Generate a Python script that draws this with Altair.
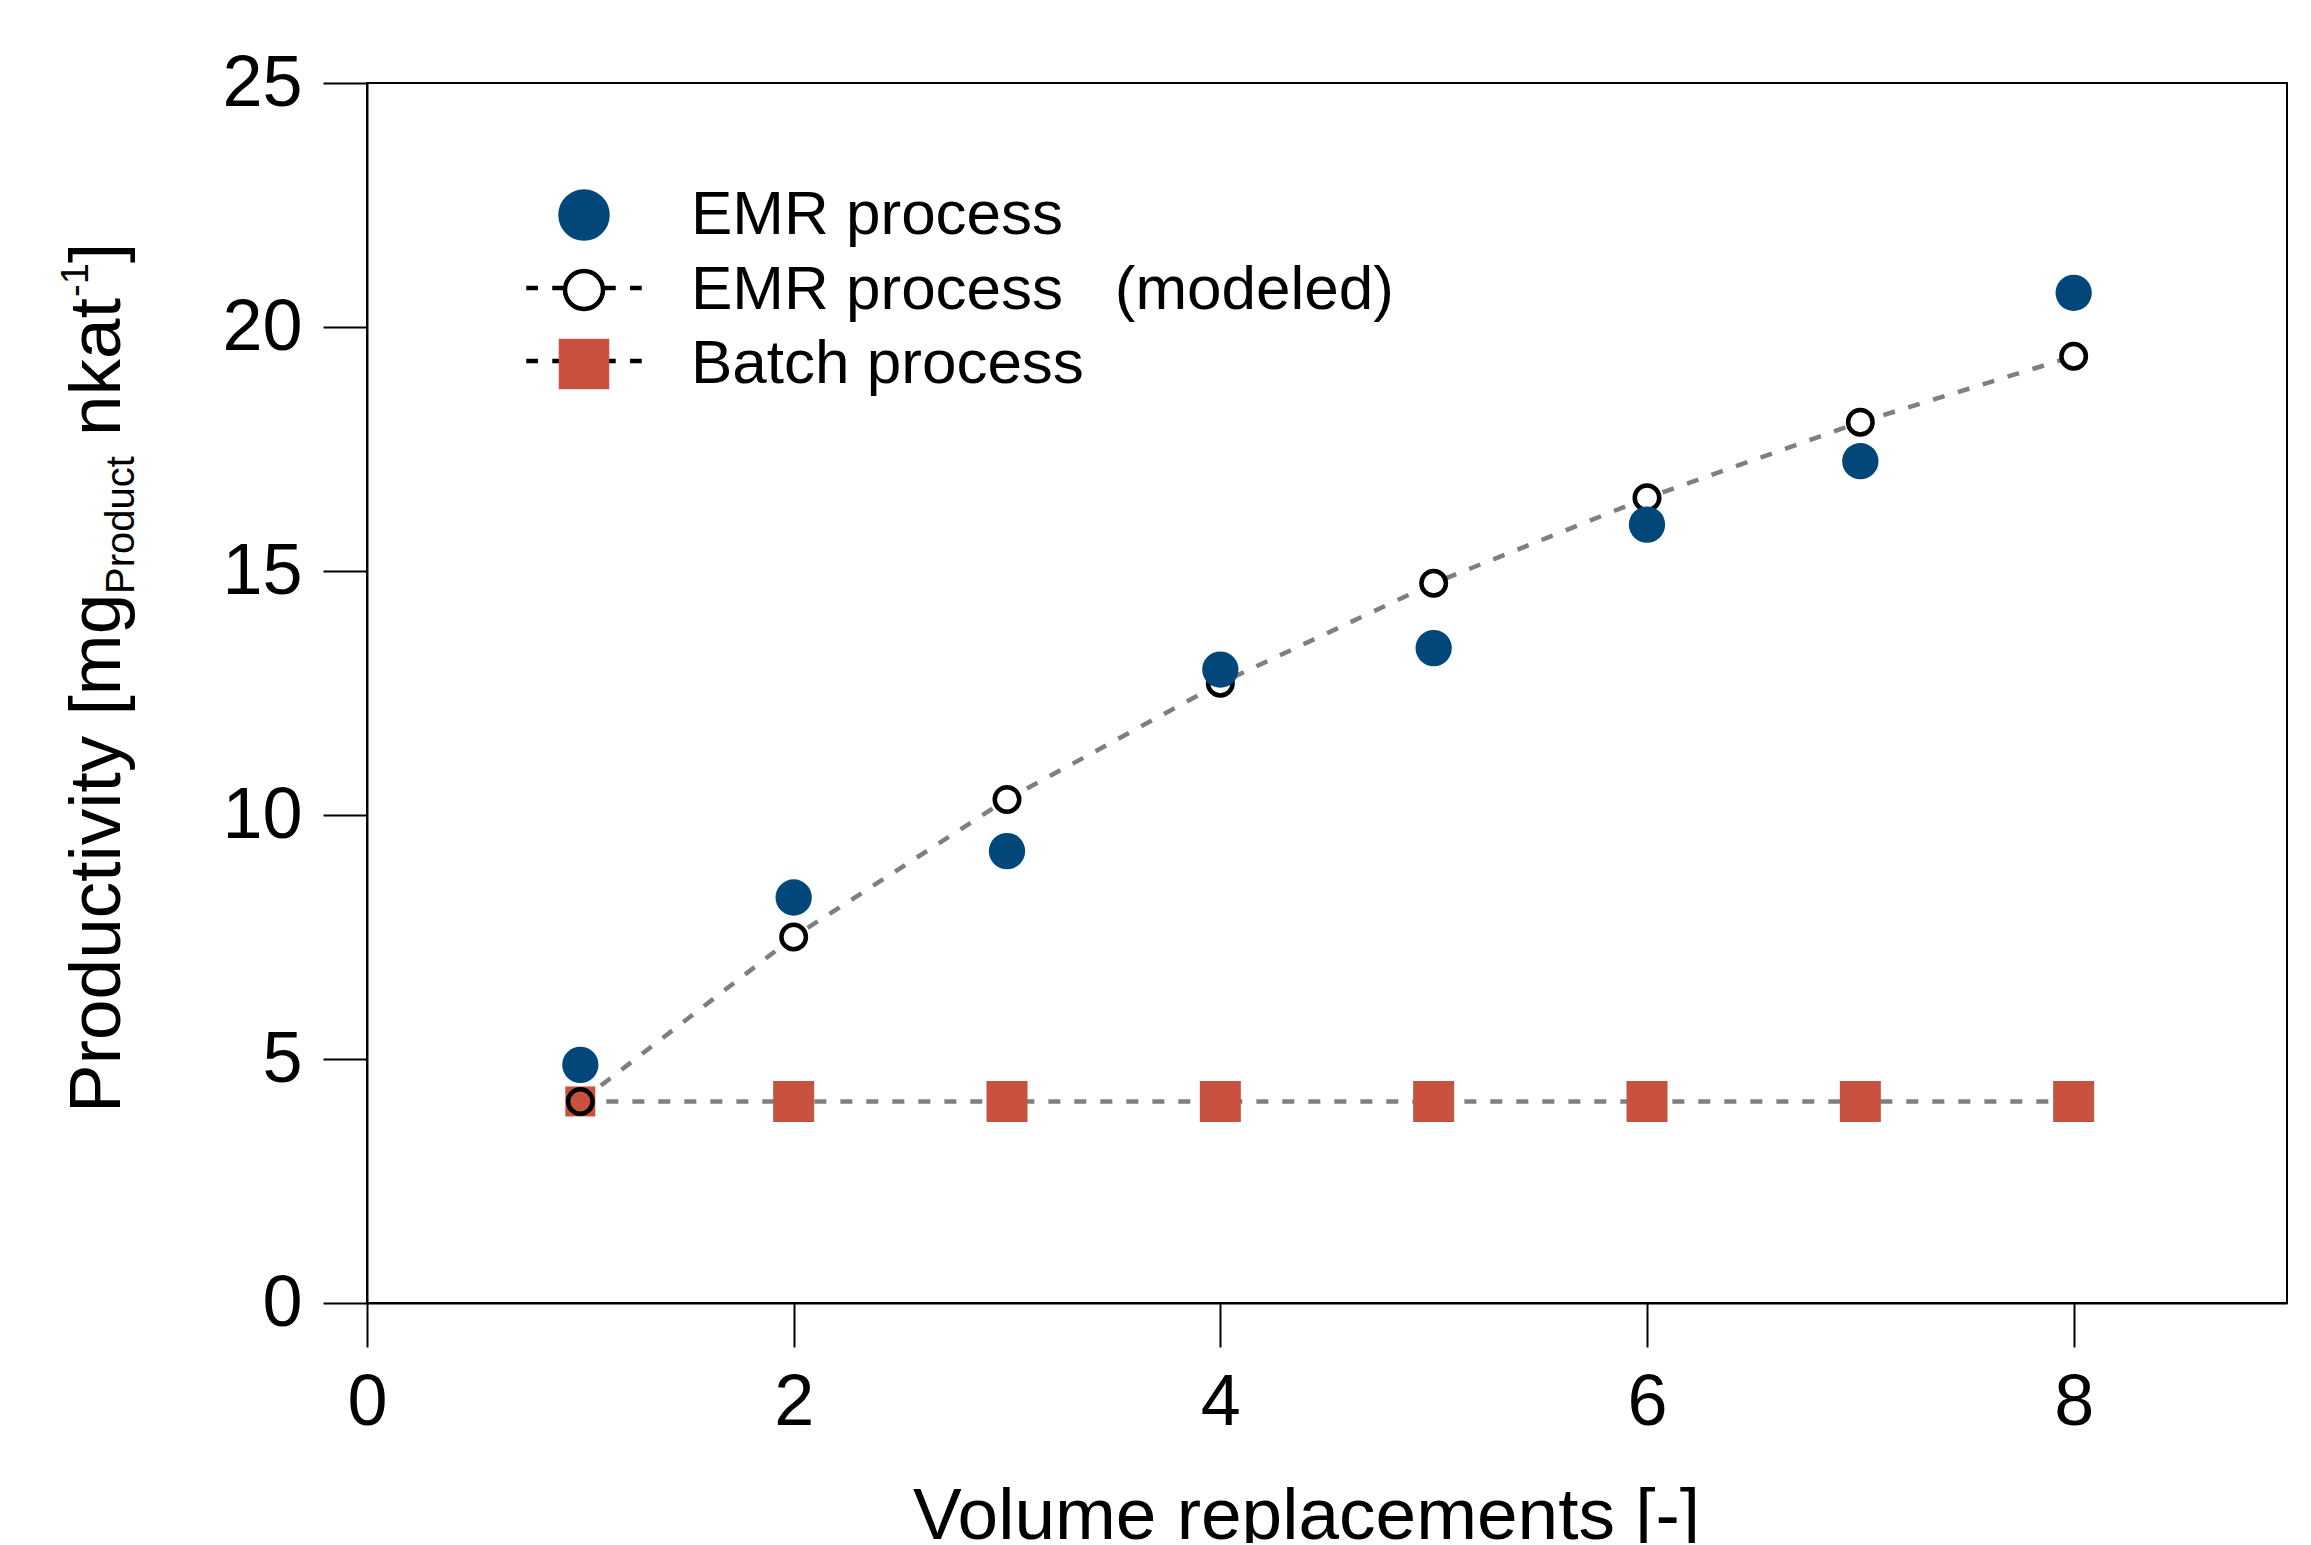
import altair as alt
import pandas as pd

# ---------------- data ----------------
volume_replacements = [1, 2, 3, 4, 5, 6, 7, 8]
emr_measured = [4.88, 8.31, 9.26, 12.98, 13.42, 15.95, 17.25, 20.70]
emr_modeled = [4.13, 7.50, 10.32, 12.70, 14.75, 16.50, 18.05, 19.40]
batch_process = [4.13, 4.13, 4.13, 4.13, 4.13, 4.13, 4.13, 4.13]

series_names = ["EMR process", "EMR process\u00a0\u00a0\u00a0(modeled)", "Batch process"]
dash_keys = ["no line", "modeled line", "batch line"]
x_ticks = [0, 2, 4, 6, 8]
y_ticks = [0, 5, 10, 15, 20, 25]
x_title = "Volume replacements [-]"
y_title_main = "Productivity [mg"
y_title_sub = "Product"
y_title_mid = "nkat"
y_title_sup = "-1"
y_title_end = "]"

# ---------------- style ----------------
FONT = "Liberation Sans"
BLUE = "#02477a"
RED = "#c8523f"
GRAY = "#7f7f7f"
W, H = 1920, 1220

df_meas = pd.DataFrame({"x": volume_replacements, "y": emr_measured})
df_mod = pd.DataFrame({"x": volume_replacements, "y": emr_modeled})
df_batch = pd.DataFrame({"x": volume_replacements, "y": batch_process})

x_enc = alt.X(
    "x:Q",
    scale=alt.Scale(domain=[0, 9], nice=False, zero=False),
    axis=alt.Axis(
        values=x_ticks, title=x_title, grid=False,
        labelFontSize=72, labelFont=FONT, labelColor="black", labelPadding=20,
        labelFlush=False, labelOverlap=False,
        tickSize=44, tickWidth=2, tickColor="black",
        domainWidth=2, domainColor="black",
        titleFontSize=73, titleFont=FONT, titleFontWeight="normal", titleColor="black",
        titleX=939, titleY=235, titleAlign="center", titleBaseline="alphabetic",
    ),
)
y_enc = alt.Y(
    "y:Q",
    scale=alt.Scale(domain=[0, 25], nice=False),
    axis=alt.Axis(
        values=y_ticks, title=None, grid=False,
        labelFontSize=72, labelFont=FONT, labelColor="black", labelPadding=21,
        labelFlush=False, labelOverlap=False,
        tickSize=44, tickWidth=2, tickColor="black",
        domainWidth=2, domainColor="black",
    ),
)

line_mod = alt.Chart(df_mod).mark_line(
    color=GRAY, strokeDash=[12, 14], strokeWidth=4.5
).encode(x=x_enc, y=y_enc)
line_batch = alt.Chart(df_batch).mark_line(
    color=GRAY, strokeDash=[12, 14], strokeWidth=4.5
).encode(x=x_enc, y=y_enc)

squares = alt.Chart(df_batch).transform_filter("datum.x > 1").mark_point(
    shape="square", filled=True, color=RED, size=1681, opacity=1
).encode(x=x_enc, y=y_enc)
square_first = alt.Chart(df_batch).transform_filter("datum.x == 1").mark_point(
    shape="square", filled=True, color=RED, size=900, opacity=1
).encode(x=x_enc, y=y_enc)

rings = alt.Chart(df_mod).transform_filter("datum.x > 1").mark_point(
    shape="circle", filled=False, fill="white", stroke="black", strokeWidth=4.5,
    size=600, opacity=1
).encode(x=x_enc, y=y_enc)
ring_first = alt.Chart(df_mod).transform_filter("datum.x == 1").mark_point(
    shape="circle", filled=False, stroke="black", strokeWidth=4.5, size=600, opacity=1
).encode(x=x_enc, y=y_enc)

dots = alt.Chart(df_meas).mark_point(
    shape="circle", filled=True, color=BLUE, size=1320, opacity=1
).encode(x=x_enc, y=y_enc)


# ---------------- legend (native legends, custom symbol paths) ----------------
def circle_path(r):
    k = round(0.5523 * r, 4)
    return (f"M{r},0C{r},{k} {k},{r} 0,{r}C{-k},{r} {-r},{k} {-r},0"
            f"C{-r},{-k} {-k},{-r} 0,{-r}C{k},{-r} {r},{-k} {r},0Z")


def square_path(a):
    return f"M{-a},{-a}L{a},{-a}L{a},{a}L{-a},{a}Z"


def dash_path(inner):
    return (f"M-2.31,0L-1.84,0M-1.27,0L{-inner},0"
            f"M{inner},0L1.27,0M1.84,0L2.31,0")


LEG_X, LEG_Y = 186, 101
leg_common = dict(
    orient="none", legendX=LEG_X, legendY=LEG_Y, title=None,
    symbolSize=2500, symbolStrokeWidth=4.5,
    labelFontSize=62, labelFont=FONT, labelLimit=2000,
    labelOffset=76, rowPadding=11, padding=0,
)
legA = alt.Legend(labelColor="black", **leg_common)
legB = alt.Legend(labelColor="black", labelExpr="''", symbolType=dash_path(0.84),
                  symbolStrokeColor="black", symbolFillColor="transparent", **leg_common)

legend_sym = alt.Chart(pd.DataFrame({"series": series_names})).transform_filter(
    "false"
).mark_point(filled=True, strokeWidth=4.5, opacity=1).encode(
    fill=alt.Fill("series:N", scale=alt.Scale(domain=series_names, range=[BLUE, "white", RED]), legend=legA),
    stroke=alt.Stroke("series:N", scale=alt.Scale(domain=series_names, range=[BLUE, "black", RED]), legend=legA),
    shape=alt.Shape("series:N", scale=alt.Scale(domain=series_names,
                    range=[circle_path(0.94), circle_path(0.76), square_path(0.92)]), legend=legA),
)

legend_dash = alt.Chart(pd.DataFrame({"dash": dash_keys})).transform_filter(
    "false"
).mark_point(filled=False, color="black", strokeWidth=4.5, opacity=1).encode(
    strokeDash=alt.StrokeDash("dash:N", scale=alt.Scale(domain=dash_keys,
                              range=[[0, 1000], [1000, 1], [1000, 1]]), legend=legB),
)


# ---------------- y title (rich text: subscript / superscript) ----------------
def title_part(text, size, xpix, ypix):
    return alt.Chart(pd.DataFrame({"label": [text]})).mark_text(
        angle=270, align="left", baseline="alphabetic", fontSize=size,
        font=FONT, color="black"
    ).encode(x=alt.value(xpix), y=alt.value(ypix), text="label:N")


yt = [
    title_part(y_title_main, 73, -247, 1030),
    title_part(y_title_sub, 40, -233, 511),
    title_part(y_title_mid, 73, -247, 353),
    title_part(y_title_sup, 38, -279, 214),
    title_part(y_title_end, 73, -247, 180),
]

chart = alt.layer(
    legend_dash, legend_sym,
    line_mod, line_batch, squares, square_first, rings, ring_first, dots,
    *yt,
).properties(
    width=W, height=H,
    padding={"left": 359, "top": 75, "right": 16, "bottom": 240},
    autosize=alt.AutoSizeParams(type="none"),
    background="white",
).configure_view(stroke="black", strokeWidth=2)

chart.save("out.html", embed_options={"renderer": "svg", "actions": False})
